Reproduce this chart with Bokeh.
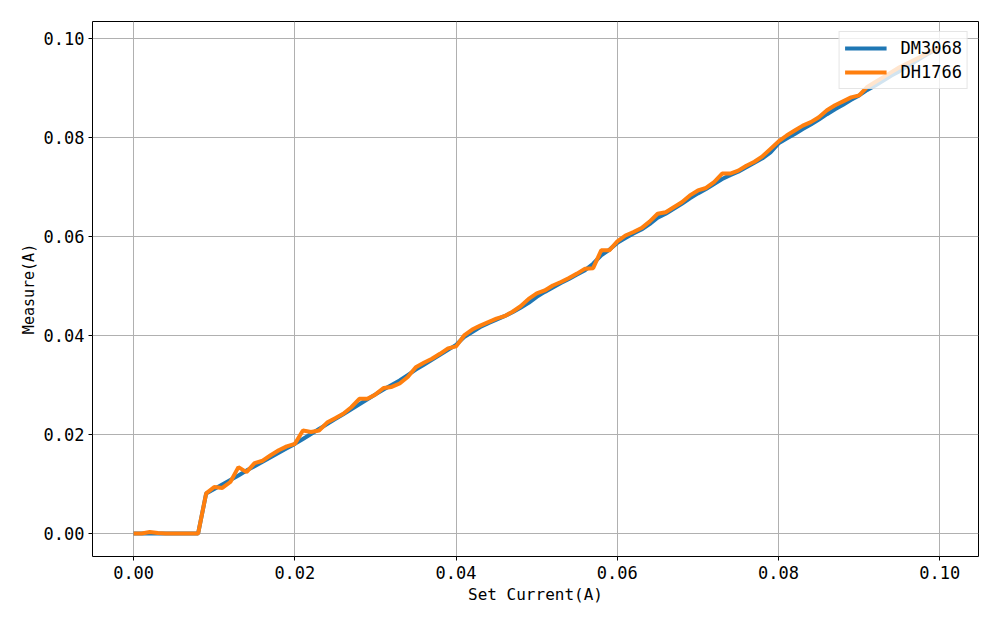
from bokeh.plotting import figure
from bokeh.models import Range1d, FixedTicker, Legend, LegendItem, ColumnDataSource
from bokeh.embed import file_html
from bokeh.resources import INLINE

# ---- data ----
set_current = [round(i * 0.001, 3) for i in range(101)]

dm3068 = [0, 0, 0, 0, 0, 0, 0, 0, 0,
          0.0081, 0.0090, 0.0099, 0.0108, 0.0117, 0.0127, 0.0136, 0.0145, 0.0154, 0.0163, 0.0172,
          0.0181, 0.0191, 0.0201, 0.0211, 0.0221, 0.0231, 0.0241, 0.0251, 0.0261, 0.0271,
          0.0281, 0.0291, 0.0300, 0.0309, 0.0320, 0.0331, 0.0341, 0.0351, 0.0361, 0.0371,
          0.0381, 0.0397, 0.0407, 0.0417, 0.0425, 0.0432, 0.0439, 0.0447, 0.0456, 0.0466,
          0.0478, 0.0488, 0.0497, 0.0506, 0.0514, 0.0523, 0.0532, 0.0545, 0.0562, 0.0573,
          0.0587, 0.0597, 0.0606, 0.0614, 0.0625, 0.0638, 0.0646, 0.0656, 0.0666, 0.0677,
          0.0687, 0.0696, 0.0706, 0.0716, 0.0724, 0.0731, 0.0740, 0.0749, 0.0758, 0.0770,
          0.0788, 0.0798, 0.0807, 0.0817, 0.0826, 0.0836, 0.0847, 0.0857, 0.0866, 0.0876,
          0.0885, 0.0896, 0.0905, 0.0915, 0.0925, 0.0934, 0.0944, 0.0954, 0.0964, 0.0973,
          0.0983]

dh1766 = [0, 0, 0.0003, 0.0001, 0, 0, 0, 0, 0,
          0.0081, 0.0094, 0.0092, 0.0104, 0.0134, 0.0124, 0.0142, 0.0147, 0.0158, 0.0168, 0.0176,
          0.0181, 0.0208, 0.0205, 0.0208, 0.0224, 0.0233, 0.0242, 0.0255, 0.0272, 0.0272,
          0.0281, 0.0294, 0.0296, 0.0303, 0.0316, 0.0336, 0.0345, 0.0353, 0.0363, 0.0374,
          0.0378, 0.0400, 0.0412, 0.0420, 0.0427, 0.0434, 0.0439, 0.0448, 0.0459, 0.0474,
          0.0485, 0.0491, 0.0501, 0.0508, 0.0516, 0.0525, 0.0535, 0.0536, 0.0572, 0.0572,
          0.0590, 0.0602, 0.0609, 0.0617, 0.0630, 0.0646, 0.0649, 0.0659, 0.0669, 0.0683,
          0.0693, 0.0698, 0.0710, 0.0727, 0.0727, 0.0733, 0.0743, 0.0751, 0.0762, 0.0777,
          0.0792, 0.0804, 0.0814, 0.0824, 0.0831, 0.0841, 0.0855, 0.0865, 0.0873, 0.0881,
          0.0885, 0.0902, 0.0912, 0.0922, 0.0932, 0.0942, 0.0950, 0.0958, 0.0966, 0.0975,
          0.0983]

series_names = ["DM3068", "DH1766"]
series_colors = ["#1f77b4", "#ff7f0e"]

x_ticks = [0.0, 0.02, 0.04, 0.06, 0.08, 0.10]
x_tick_labels = ["0.00", "0.02", "0.04", "0.06", "0.08", "0.10"]
y_ticks = [0.0, 0.02, 0.04, 0.06, 0.08, 0.10]
y_tick_labels = ["0.00", "0.02", "0.04", "0.06", "0.08", "0.10"]

x_label = "Set Current(A)"
y_label = "Measure(A)"

# ---- figure ----
MONO = "DejaVu Sans Mono"

p = figure(width=992, height=617, output_backend="svg", toolbar_location=None,
           x_range=Range1d(-0.0051, 0.1048), y_range=Range1d(-0.00465, 0.10343),
           min_border_left=92, min_border_right=14, min_border_top=21, min_border_bottom=61)

p.background_fill_color = "white"
p.border_fill_color = "white"
p.outline_line_color = "black"
p.outline_line_width = 1
p.outline_line_alpha = 1

src = ColumnDataSource(dict(x=set_current, a=dm3068, b=dh1766))
r1 = p.line("x", "a", source=src, line_color=series_colors[0], line_width=4)
r2 = p.line("x", "b", source=src, line_color=series_colors[1], line_width=4)

p.xaxis.ticker = FixedTicker(ticks=x_ticks)
p.yaxis.ticker = FixedTicker(ticks=y_ticks)
p.xaxis.major_label_overrides = {t: l for t, l in zip(x_ticks, x_tick_labels)}
p.yaxis.major_label_overrides = {t: l for t, l in zip(y_ticks, y_tick_labels)}

for ax in (p.xaxis, p.yaxis):
    ax.axis_line_color = None
    ax.major_tick_line_color = "black"
    ax.major_tick_out = 4
    ax.major_tick_in = 0
    ax.minor_tick_line_color = None
    ax.major_label_text_font = MONO
    ax.major_label_text_font_size = "17px"
    ax.major_label_text_color = "black"
    ax.axis_label_text_font_style = "normal"
    ax.axis_label_text_color = "black"

p.xaxis.axis_label = x_label
p.xaxis.axis_label_text_font = MONO
p.xaxis.axis_label_text_font_size = "16px"
p.xaxis.axis_label_standoff = 3
p.xaxis.major_label_standoff = 5

p.yaxis.axis_label = y_label
p.yaxis.axis_label_text_font = MONO
p.yaxis.axis_label_text_font_size = "15px"
p.yaxis.axis_label_standoff = 3
p.yaxis.major_label_standoff = 4

p.grid.grid_line_color = "#b0b0b0"
p.grid.grid_line_width = 1

legend = Legend(items=[LegendItem(label=series_names[0], renderers=[r1]),
                       LegendItem(label=series_names[1], renderers=[r2])],
                location="top_right")
legend.label_text_font = MONO
legend.label_text_font_size = "17px"
legend.label_text_color = "black"
legend.glyph_width = 42
legend.glyph_height = 22
legend.label_height = 22
legend.label_standoff = 14
legend.padding = 5
legend.spacing = 2
legend.margin = 10
legend.border_line_color = "#cccccc"
legend.border_line_width = 1
legend.background_fill_alpha = 0.8
p.add_layout(legend)

open("out.html", "w").write(file_html(p, INLINE))
